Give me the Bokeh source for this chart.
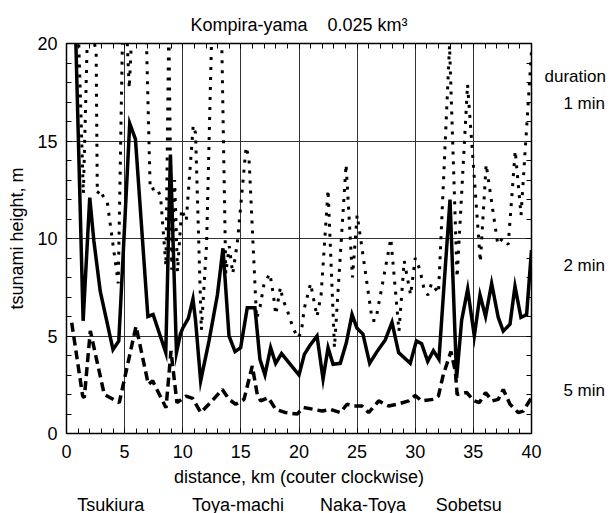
from bokeh.plotting import figure
from bokeh.models import LinearAxis, SingleIntervalTicker, FixedTicker, Range1d
from bokeh.embed import file_html
from bokeh.resources import INLINE

# ---- data ----
min2_x = [0.5, 1.43, 2.0, 2.35, 2.9, 4.0, 4.5, 5.44, 5.93, 7.0, 7.45, 8.54, 8.94, 9.46, 9.8, 10.0,
          10.48, 10.88, 11.1, 11.54, 12.26, 12.98, 13.46, 13.98, 14.5, 14.98, 15.55, 16.21, 16.64,
          17.07, 17.56, 17.99, 18.5, 20.0, 20.46, 20.92, 21.55, 22.07, 22.5, 22.93, 23.55, 24.07,
          24.56, 24.99, 25.5, 26.08, 26.71, 27.42, 28.0, 28.57, 29.57, 30.1, 30.55, 31.07, 31.56,
          32.04, 32.5, 32.99, 33.56, 33.99, 34.51, 35.08, 35.57, 36.05, 36.57, 37.14, 37.57, 38.15,
          38.58, 39.09, 39.58, 40.0]
min2_y = [27.0, 5.78, 12.1, 9.9, 7.3, 4.3, 4.75, 15.9, 15.1, 6.0, 6.1, 4.15, 14.3, 4.15, 5.1, 5.4,
          5.9, 6.9, 5.8, 2.7, 4.75, 7.1, 9.5, 5.0, 4.2, 4.4, 6.45, 6.45, 3.8,
          3.0, 4.4, 3.6, 4.1, 3.0, 4.06, 4.5, 5.0, 2.8, 4.4, 3.55, 3.6, 4.65,
          6.1, 5.4, 5.1, 3.6, 4.2, 4.8, 5.7, 4.15, 3.6, 4.75, 4.6, 3.7, 4.25,
          3.8, 7.8, 12.0, 2.85, 5.8, 7.4, 5.0, 7.1, 6.0, 7.7, 5.95, 5.25, 5.6,
          7.55, 5.95, 6.1, 9.4]

min5_x = [0.45, 1.39, 1.53, 2.05, 3.25, 4.54, 5.98, 7.04, 7.41, 8.56, 8.99, 9.5, 10.28, 10.85,
          11.55, 12.6, 13.4, 13.98, 14.55, 15.27, 15.98, 16.41, 16.7, 17.36, 17.99, 18.85, 19.85,
          20.4, 21.26, 21.98, 22.7, 23.55, 24.13, 24.7, 25.42, 25.99, 26.85, 27.71, 28.43, 29.43,
          30.0, 30.55, 31.56, 31.99, 32.42, 33.07, 33.45, 33.6, 34.42, 35.08, 35.51, 36.05, 36.63,
          37.14, 37.57, 38.15, 38.86, 39.29, 40.0]
min5_y = [5.68, 1.92, 1.84, 5.26, 2.0, 1.58, 5.5, 2.52, 2.7, 1.32, 4.23, 1.58, 1.92, 1.8,
          1.07, 1.72, 2.26, 1.75, 1.5, 1.75, 3.46, 2.0, 1.67, 1.84, 1.24, 1.07, 1.0,
          1.33, 1.24, 1.15, 1.24, 1.07, 1.5, 1.41, 1.41, 1.07, 1.67, 1.41, 1.5, 1.67,
          1.95, 1.67, 1.75, 1.92, 3.03, 4.2, 3.2, 2.0, 2.1, 1.67, 1.58, 2.1, 1.67,
          1.75, 2.26, 1.5, 1.07, 1.15, 1.84]

min1_x = [0.95, 1.45, 1.82, 2.55, 2.65, 2.9, 3.2, 3.5, 4.45, 4.85, 5.15, 5.4, 5.65, 6.8, 7.2,
          7.8, 8.1, 8.55, 8.8, 9.05, 9.3, 9.55, 9.9, 10.3, 10.9, 11.1, 11.6, 12.05, 12.55, 13.3,
          13.7, 14.0, 14.3, 14.7, 15.45, 15.7, 16.35, 16.65, 17.0, 17.5, 17.8, 18.0, 18.4, 18.6,
          19.0, 19.5, 19.9, 20.2, 20.45, 21.0, 21.35, 21.55, 21.9, 22.5, 23.05, 24.05, 24.6, 25.0,
          25.3, 26.3, 26.6, 27.9, 28.6, 29.05, 29.6, 30.0, 30.4, 30.8, 31.1, 31.4, 32.0, 32.95,
          33.6, 34.5, 35.6, 36.1, 37.1, 37.5, 38.0, 38.6, 39.1, 40.0]
min1_y = [22.0, 12.3, 21.0, 19.7, 12.3, 12.5, 12.1, 11.9, 7.7, 21.5, 21.0, 17.7, 21.0, 22.0, 12.5,
          12.6, 12.1, 8.6, 21.0, 8.4, 13.0, 8.3, 11.5, 10.9, 15.8, 15.4, 5.3, 9.7, 22.0, 22.0,
          8.2, 9.6, 8.2, 9.8, 14.7, 14.1, 5.9, 6.5, 7.7, 8.2, 7.1, 6.1, 7.5, 6.9,
          6.3, 5.4, 4.9, 5.2, 6.4, 7.7, 6.6, 6.0, 7.1, 12.5, 4.4, 13.8, 8.0, 11.2,
          10.0, 5.8, 5.8, 10.0, 5.25, 8.85, 7.1, 9.0, 8.4, 7.3, 7.1, 7.7, 7.2, 19.9,
          8.0, 17.9, 8.8, 13.8, 9.7, 10.0, 9.7, 14.5, 11.2, 19.6]

places = ["Tsukiura", "Toya-machi", "Naka-Toya", "Sobetsu"]
place_x = [3.8, 14.75, 25.5, 34.6]
duration_labels = ["duration", "1 min", "2 min", "5 min"]
duration_y = [18.33, 16.9, 8.64, 2.18]
title_text = "Kompira-yama\u00a0\u00a0\u00a0 0.025 km\u00b3"
title_x = 20
x_minor = list(range(0, 41))
y_minor = list(range(0, 21))

FONT = "Liberation Sans"
FS = "18px"

p = figure(frame_width=465, frame_height=390,
           x_range=Range1d(0, 40), y_range=Range1d(0, 20),
           output_backend="svg", toolbar_location=None,
           min_border_left=66, min_border_right=80, min_border_top=43, min_border_bottom=80,
           x_axis_label="distance, km (couter clockwise)", y_axis_label="tsunami height, m")
p.background_fill_color = "white"
p.border_fill_color = "white"
p.outline_line_color = "black"
p.outline_line_width = 1.5

for ax in (p.xaxis[0], p.yaxis[0]):
    ax.ticker = SingleIntervalTicker(interval=5, num_minor_ticks=5)
    ax.major_tick_in = 5
    ax.major_tick_out = 0
    ax.minor_tick_in = 5
    ax.minor_tick_out = 0
    ax.axis_line_color = None
    ax.major_label_text_font = FONT
    ax.major_label_text_font_size = FS
    ax.major_label_text_color = "black"
    ax.axis_label_text_font = FONT
    ax.axis_label_text_font_size = FS
    ax.axis_label_text_font_style = "normal"
    ax.axis_label_text_color = "black"
p.xaxis[0].major_label_standoff = 11
p.xaxis[0].axis_label_standoff = 6
p.yaxis[0].major_label_standoff = 9
p.yaxis[0].axis_label_standoff = 7


def label_axis(ticks, labels, minor, standoff, size):
    ax = LinearAxis(ticker=FixedTicker(ticks=ticks, minor_ticks=minor),
                    major_label_overrides={t: s for t, s in zip(ticks, labels)})
    ax.major_tick_in = 0
    ax.major_tick_out = 0
    ax.minor_tick_in = 5
    ax.minor_tick_out = 0
    ax.axis_line_color = None
    ax.major_label_standoff = standoff
    ax.major_label_text_font = FONT
    ax.major_label_text_font_size = size
    ax.major_label_text_color = "black"
    return ax


# title as the label of the top axis (which also carries the top tick marks)
p.add_layout(label_axis([title_x], [title_text], x_minor, 9, FS), "above")

# duration labels on the right (axis also carries the right tick marks)
dur_text = [t if t == "duration" else "\u00a0" * 4 + t for t in duration_labels]
p.add_layout(label_axis(duration_y, dur_text, y_minor, 13, "17px"), "right")

# place names below
p.add_layout(label_axis(place_x, places, [], 5, FS), "below")

p.xgrid.ticker = SingleIntervalTicker(interval=5)
p.ygrid.ticker = SingleIntervalTicker(interval=5)
p.xgrid.grid_line_color = "#333333"
p.ygrid.grid_line_color = "#333333"

p.line(min1_x, min1_y, line_color="black", line_width=3, line_dash="3 7")
p.line(min5_x, min5_y, line_color="black", line_width=3.5, line_dash="9 5")
p.line(min2_x, min2_y, line_color="black", line_width=3.5, line_join="miter")

open("out.html", "w").write(file_html(p, INLINE))
